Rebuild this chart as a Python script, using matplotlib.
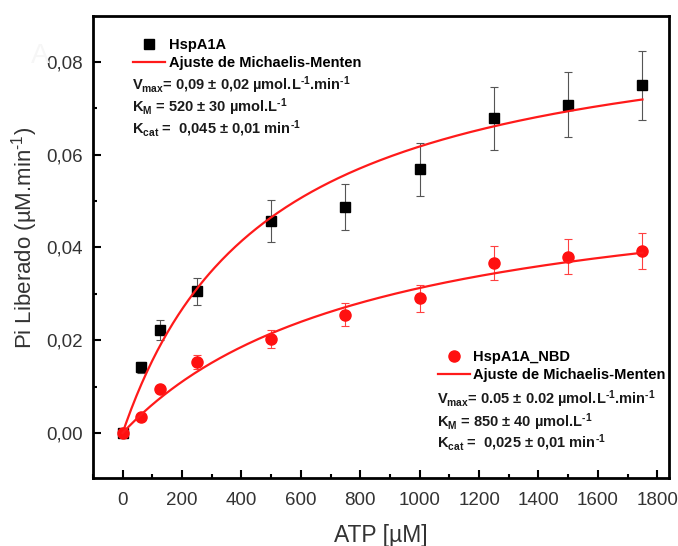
import numpy as np
import matplotlib
matplotlib.use("Agg")
import matplotlib.pyplot as plt
from matplotlib.ticker import FuncFormatter, MultipleLocator

plt.rcParams['font.family'] = ['Liberation Sans', 'DejaVu Sans']
plt.rcParams['mathtext.fontset'] = 'custom'
plt.rcParams['mathtext.rm'] = 'Liberation Sans'
plt.rcParams['mathtext.it'] = 'Liberation Sans'
plt.rcParams['mathtext.bf'] = 'Liberation Sans:bold'

# dados
atp = [0, 62.5, 125, 250, 500, 750, 1000, 1250, 1500, 1750]
pi_wt = [0, 0.0142, 0.0222, 0.0305, 0.0457, 0.0487, 0.0568, 0.0678, 0.0707, 0.0749]
err_wt = [0, 0.0012, 0.0022, 0.003, 0.0045, 0.005, 0.0057, 0.0068, 0.007, 0.0075]
pi_nbd = [0, 0.0035, 0.0095, 0.0153, 0.0203, 0.0255, 0.029, 0.0367, 0.038, 0.0393]
err_nbd = [0, 0.0003, 0.0003, 0.0015, 0.002, 0.0025, 0.003, 0.0037, 0.0038, 0.0039]

# parametros do ajuste (Michaelis-Menten)
vmax_wt, km_wt = 0.092, 490
vmax_nbd, km_nbd = 0.0575, 840

xfit = np.linspace(0, 1750, 300)

fig = plt.figure(figsize=(6.78, 5.46), dpi=100)
ax = fig.add_axes([0.137, 0.1245, 0.850, 0.8465])

ax.errorbar(atp, pi_wt, yerr=err_wt, fmt='none', ecolor='#555555', elinewidth=0.8, capsize=3, capthick=0.8)
sq, = ax.plot(atp, pi_wt, 's', color='black', ms=6.5, label='HspA1A')
fit1, = ax.plot(xfit, vmax_wt * xfit / (km_wt + xfit), color='#ff1a1a', lw=1.6, label='Ajuste de Michaelis-Menten')

ax.errorbar(atp, pi_nbd, yerr=err_nbd, fmt='none', ecolor='#ff4040', elinewidth=0.8, capsize=3, capthick=0.8)
circ, = ax.plot(atp, pi_nbd, 'o', color='#ff1010', ms=8, label='HspA1A_NBD')
fit2, = ax.plot(xfit, vmax_nbd * xfit / (km_nbd + xfit), color='#ff1a1a', lw=1.6, label='Ajuste de Michaelis-Menten')

ax.set_xlim(-100, 1840)
ax.set_ylim(-0.0097, 0.0899)
ax.xaxis.set_major_locator(MultipleLocator(200))
ax.xaxis.set_minor_locator(MultipleLocator(100))
ax.yaxis.set_major_locator(MultipleLocator(0.02))
ax.yaxis.set_minor_locator(MultipleLocator(0.01))
ax.yaxis.set_major_formatter(FuncFormatter(lambda v, p: f"{v:.2f}".replace('.', ',')))
ax.tick_params(which='both', direction='in', width=1.5, labelsize=13.5, colors='black')
ax.tick_params(axis='both', labelcolor='#333333')
ax.tick_params(which='major', length=6)
ax.tick_params(which='minor', length=3)
ax.tick_params(axis='x', pad=10)
ax.tick_params(axis='y', pad=7)
for s in ax.spines.values():
    s.set_linewidth(2)

ax.set_xlabel('ATP [µM]', fontsize=16.5, color='#333333')
ax.set_ylabel('Pi Liberado (µM.min$^{\u20101}$)', fontsize=16, color='#333333')
ax.xaxis.set_label_coords(0.5, -0.1)
ax.yaxis.set_label_coords(-0.092, 0.52)

fbold = dict(fontsize=10.5, fontweight='bold', color='#1a1a1a')
leg1 = ax.legend(handles=[sq, fit1], loc='upper left', bbox_to_anchor=(0.0695, 0.952), frameon=False,
                 borderpad=0, borderaxespad=0, handlelength=2.2, handletextpad=0.25, labelspacing=0.3,
                 prop={'weight': 'bold', 'size': 10.5})
ax.add_artist(leg1)
ax.legend(handles=[circ, fit2], loc='upper left', bbox_to_anchor=(0.598, 0.277), frameon=False,
          borderpad=0, borderaxespad=0, handlelength=2.2, handletextpad=0.25, labelspacing=0.3,
          prop={'weight': 'bold', 'size': 10.5})

sup = r'$^{\mathbf{' + '\u2010' + r'1}}$'
ax.text(0.068, 0.851, r'$\mathbf{V_{max}}$= 0,09 ± 0,02 µmol.L' + sup + '.min' + sup,
        transform=ax.transAxes, va='center', **fbold)
ax.text(0.068, 0.803, r'$\mathbf{K_{M}}$ = 520 ± 30 µmol.L' + sup,
        transform=ax.transAxes, va='center', **fbold)
ax.text(0.068, 0.755, r'$\mathbf{K_{cat}}$ =  0,045 ± 0,01 min' + sup,
        transform=ax.transAxes, va='center', **fbold)

ax.text(0.597, 0.171, r'$\mathbf{V_{max}}$= 0.05 ± 0.02 µmol.L' + sup + '.min' + sup,
        transform=ax.transAxes, va='center', **fbold)
ax.text(0.597, 0.1215, r'$\mathbf{K_{M}}$ = 850 ± 40 µmol.L' + sup,
        transform=ax.transAxes, va='center', **fbold)
ax.text(0.597, 0.076, r'$\mathbf{K_{cat}}$ =  0,025 ± 0,01 min' + sup,
        transform=ax.transAxes, va='center', **fbold)

# letra do painel quase invisivel
fig.text(0.045, 0.885, 'A', fontsize=20, color='#f6f6f6')

fig.savefig('out.png', dpi=100)
